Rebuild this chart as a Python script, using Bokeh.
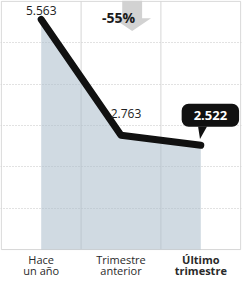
from bokeh.plotting import figure
from bokeh.models import Range1d, FixedTicker, Label, ColumnDataSource
from bokeh.embed import file_html
from bokeh.resources import INLINE

categories = ["Hace\nun año", "Trimestre\nanterior", "Último\ntrimestre"]
values = [5.563, 2.763, 2.522]
value_labels = ["5.563", "2.763", "2.522"]
change_label = "-55%"
y_max = 6

FONT = "Open Sans"
n = len(values)
xs = [i + 0.5 for i in range(n)]

p = figure(width=243, height=277, output_backend="svg", toolbar_location=None,
           x_range=Range1d(-0.01, n + 0.01), y_range=Range1d(-0.675, y_max + 0.02),
           min_border_left=0, min_border_right=2, min_border_top=0, min_border_bottom=0)
p.axis.visible = False
p.outline_line_color = None
p.background_fill_color = "white"
p.border_fill_color = "white"
p.xgrid.visible = False

# dotted horizontal grid
p.ygrid.ticker = FixedTicker(ticks=list(range(1, y_max)))
p.ygrid.grid_line_color = "#c4c4c4"
p.ygrid.grid_line_dash = "1 2"

# solid frame and column separators
bx = list(range(n + 1))
p.segment(x0=bx, y0=[0] * len(bx), x1=bx, y1=[y_max] * len(bx),
          line_color="#d6d6d6", line_width=1)
p.segment(x0=[0, 0], y0=[0, y_max], x1=[n, n], y1=[0, y_max],
          line_color="#d6d6d6", line_width=1)

src = ColumnDataSource(dict(x=xs, y=values))
p.varea(x="x", y1=0, y2="y", source=src, fill_color="#a9bccb", fill_alpha=0.55)
p.line(x="x", y="y", source=src, line_color="#111111", line_width=7,
       line_cap="round", line_join="round")

# change arrow (decorative)
ax, ay = 1.64, 5.28
sw, hw = 10 / 80.3, 19 / 80.3
hl = 13 / 41.5
p.patch(x=[ax - sw, ax + sw, ax + sw, ax + hw, ax, ax - hw, ax - sw],
        y=[y_max + 0.02, y_max + 0.02, ay + hl, ay + hl, ay, ay + hl, ay + hl],
        fill_color="#d2d2d2", line_color=None)
p.add_layout(Label(x=1.47, y=5.6, text=change_label, text_font=FONT, text_font_size="14px",
                   text_font_style="bold", text_color="#1a1a1a", text_align="center",
                   text_baseline="middle"))

# value labels
p.add_layout(Label(x=xs[0], y=values[0], y_offset=9, text=value_labels[0], text_font=FONT,
                   text_font_size="12px", text_color="#222222", text_align="center",
                   text_baseline="middle"))
p.add_layout(Label(x=xs[1], y=values[1], y_offset=22, x_offset=5, text=value_labels[1],
                   text_font=FONT, text_font_size="12px", text_color="#222222",
                   text_align="center", text_baseline="middle"))

# callout for last value
p.patch(x=[xs[2] - 0.034, xs[2] + 0.078, xs[2] - 0.01],
        y=[values[2] + 0.45, values[2] + 0.45, values[2] + 0.15],
        fill_color="#111111", line_color=None)
p.add_layout(Label(x=xs[2] + 0.12, y=values[2], y_offset=30, text=value_labels[2], text_font=FONT,
                   text_font_size="13px", text_font_style="bold", text_color="white",
                   text_align="center", text_baseline="middle",
                   background_fill_color="#111111", border_radius=7, padding=(12, 7)))

# category labels
for i, cat in enumerate(categories):
    lines = cat.split("\n")
    style = "bold" if i == n - 1 else "normal"
    for j, ln in enumerate(lines):
        p.add_layout(Label(x=xs[i], y=0, y_offset=-10 - 11 * j, text=ln, text_font=FONT,
                           text_font_size="11px", text_font_style=style, text_color="#2a2a2a",
                           text_align="center", text_baseline="middle"))

open("out.html", "w").write(file_html(p, INLINE))
